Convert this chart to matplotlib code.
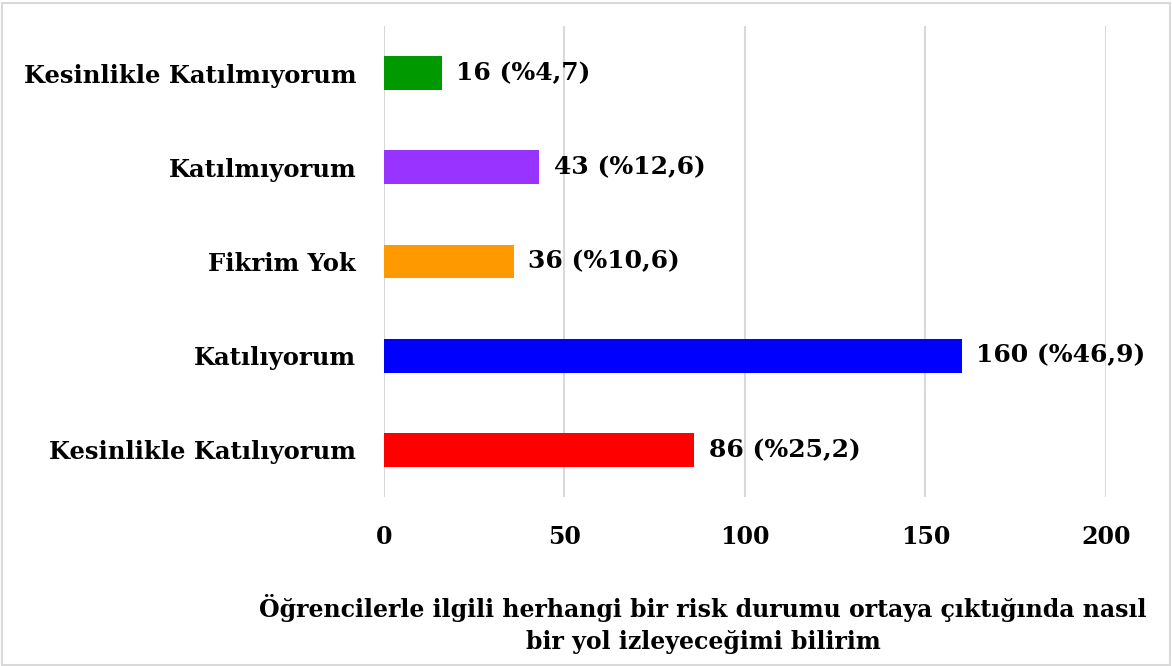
import matplotlib.pyplot as plt

categories = ["Kesinlikle Katılıyorum", "Katılıyorum", "Fikrim Yok",
              "Katılmıyorum", "Kesinlikle Katılmıyorum"]
counts = [86, 160, 36, 43, 16]
percents = ["25,2", "46,9", "10,6", "12,6", "4,7"]
colors = ["#FF0000", "#0000FF", "#FF9900", "#9933FF", "#009900"]
xticks = [0, 50, 100, 150, 200]

plt.rcParams["font.family"] = ["DejaVu Serif"]
plt.rcParams["font.weight"] = "bold"

fig = plt.figure(figsize=(11.72, 6.66), dpi=100)
ax = fig.add_axes([0.3276, 0.2538, 0.6161, 0.7072])

y = list(range(len(categories)))
ax.barh(y, counts, height=0.36, color=colors, zorder=2)
for yi, c, p in zip(y, counts, percents):
    ax.text(c + 4, yi, f"{c} (%{p})", va="center", ha="left",
            fontsize=18, fontweight="bold")

ax.set_xlim(0, 200)
ax.set_ylim(-0.5, 4.5)
ax.set_xticks(xticks)
ax.set_yticks(y)
ax.set_yticklabels(categories)
ax.tick_params(axis="x", length=0, labelsize=17, pad=20)
ax.tick_params(axis="y", length=0, labelsize=17.5, pad=20)
for lab in ax.get_xticklabels() + ax.get_yticklabels():
    lab.set_fontweight("bold")
ax.grid(axis="x", color="#D9D9D9", linewidth=1.5, zorder=0)
for s in ax.spines.values():
    s.set_visible(False)

fig.text(0.60, 0.063, "Öğrencilerle ilgili herhangi bir risk durumu ortaya çıktığında nasıl\nbir yol izleyeceğimi bilirim",
         ha="center", va="center", fontsize=17, fontweight="bold",
         linespacing=1.45)

fig.patches.append(plt.Rectangle((0.002, 0.002), 0.996, 0.994,
                                 transform=fig.transFigure, fill=False,
                                 edgecolor="#D9D9D9", linewidth=1.5))

fig.savefig("out.png", dpi=100)
